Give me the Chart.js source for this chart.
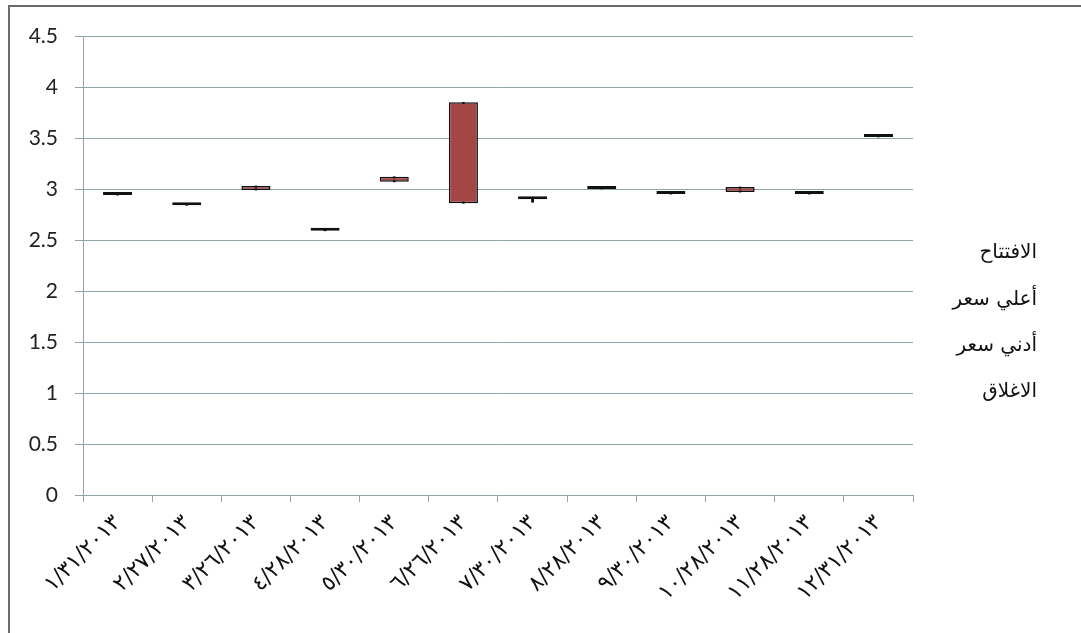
<!DOCTYPE html>
<html>
<head>
<meta charset="utf-8">
<script src="https://cdn.jsdelivr.net/npm/chart.js@4/dist/chart.umd.min.js"></script>
<style>
  html,body{margin:0;padding:0;background:#fff;overflow:hidden;width:1081px;height:633px;}
  #frame{position:absolute;left:8px;top:5px;width:1100px;height:700px;border:2px solid #6a6a6a;box-sizing:border-box;}
  #c{position:absolute;left:0;top:0;}
  .lg{position:absolute;right:44px;font-family:"DejaVu Sans";font-size:20px;color:#111;direction:rtl;white-space:nowrap;line-height:24px;}
</style>
</head>
<body>
<div id="frame"></div>
<canvas id="c" width="1081" height="633"></canvas>
<div id="legend"></div>
<script>
// Data
const categories = ['١/٣١/٢٠١٣','٢/٢٧/٢٠١٣','٣/٢٦/٢٠١٣','٤/٢٨/٢٠١٣','٥/٣٠/٢٠١٣','٦/٢٦/٢٠١٣','٧/٣٠/٢٠١٣','٨/٢٨/٢٠١٣','٩/٣٠/٢٠١٣','١٠/٢٨/٢٠١٣','١١/٢٨/٢٠١٣','١٢/٣١/٢٠١٣'];
const openVals  = [2.95, 2.85, 3.03, 2.60, 3.12, 3.85, 2.91, 3.01, 2.96, 3.02, 2.96, 3.52];
const highVals  = [2.95, 2.85, 3.03, 2.60, 3.12, 3.85, 2.91, 3.01, 2.96, 3.02, 2.96, 3.52];
const lowVals   = [2.94, 2.84, 2.99, 2.59, 3.07, 2.86, 2.87, 3.00, 2.95, 2.97, 2.95, 3.51];
const closeVals = [2.94, 2.84, 2.99, 2.59, 3.07, 2.86, 2.90, 3.00, 2.95, 2.97, 2.95, 3.51];
const seriesNames = ['الافتتاح', 'أعلي سعر', 'أدني سعر', 'الاغلاق'];
const yTicks = [0, 0.5, 1, 1.5, 2, 2.5, 3, 3.5, 4, 4.5];

const gridColor = '#8fa3a9';

const hiLo = categories.map((_, i) => [lowVals[i], highVals[i]]);
const body = categories.map((_, i) => [Math.min(openVals[i], closeVals[i]), Math.max(openVals[i], closeVals[i])]);

new Chart(document.getElementById('c'), {
  type: 'bar',
  data: {
    labels: categories,
    datasets: [
      { label: 'hl', data: hiLo, backgroundColor: '#000', borderWidth: 0, barThickness: 2, grouped: false, order: 2 },
      { label: 'body', data: body, backgroundColor: '#a54646', borderColor: '#111', borderWidth: 1.5, borderSkipped: false,
        minBarLength: 3, barPercentage: 0.42, categoryPercentage: 1, grouped: false, order: 1 }
    ]
  },
  options: {
    responsive: false, animation: false, devicePixelRatio: 1,
    layout: { padding: { left: 8, top: 36, right: 168, bottom: 0 } },
    plugins: { legend: { display: false }, tooltip: { enabled: false } },
    scales: {
      x: {
        offset: true,
        grid: { offset: true, drawOnChartArea: false, drawTicks: true, tickLength: 7, color: gridColor },
        border: { color: gridColor },
        ticks: { minRotation: 45, maxRotation: 45, autoSkip: false, font: { family: 'DejaVu Sans', size: 22 }, color: '#111', padding: 8 },
        afterFit(s) { s.height = 138; }
      },
      y: {
        min: 0, max: 4.5,
        afterBuildTicks(s) { s.ticks = yTicks.map(v => ({ value: v })); },
        ticks: { font: { family: 'Lato', size: 21 }, color: '#222', padding: 17, callback: v => String(v) },
        grid: { color: gridColor, tickLength: 8 },
        border: { color: gridColor },
        afterFit(s) { s.width = 75; }
      }
    }
  }
});

const lg = document.getElementById('legend');
const legendCenters = [251, 298, 344, 390];
seriesNames.forEach((n, i) => {
  const d = document.createElement('div');
  d.className = 'lg';
  d.style.top = (legendCenters[i] - 12) + 'px';
  d.textContent = n;
  lg.appendChild(d);
});
</script>
</body>
</html>
